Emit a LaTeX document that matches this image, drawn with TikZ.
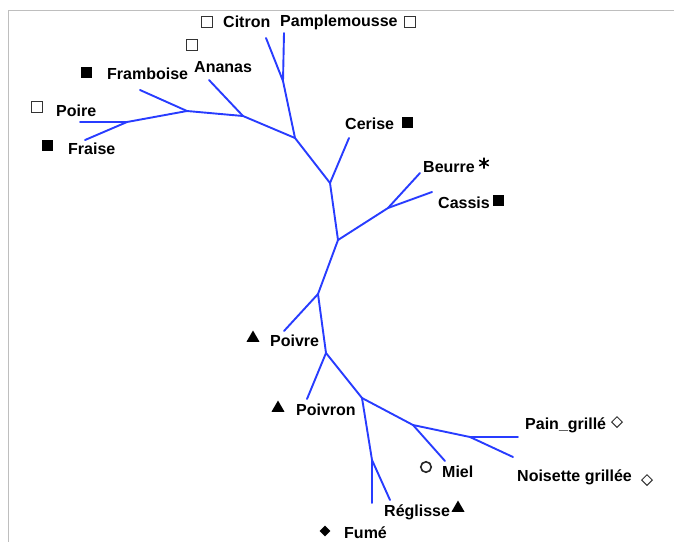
\documentclass[tikz,border=0pt]{standalone}
\usepackage{fontspec}
\setmainfont{Liberation Sans}
\usetikzlibrary{shapes.geometric}
\definecolor{treeblue}{RGB}{40,60,255}
\definecolor{framegray}{RGB}{190,190,190}
\tikzset{
  branch/.style={draw=treeblue, line width=1.9pt, line cap=round, line join=round},
  lbl/.style={inner sep=0pt, font=\fontsize{16}{18}\selectfont\bfseries},
  osq/.style={draw=black!80, line width=1.1pt, minimum size=10.5pt, inner sep=0pt},
  fsq/.style={fill=black, minimum size=11pt, inner sep=0pt},
  ftri/.style={regular polygon, regular polygon sides=3, fill=black, minimum size=15pt, inner sep=0pt},
  odia/.style={diamond, draw=black!80, line width=1pt, minimum width=11pt, minimum height=11pt, inner sep=0pt},
  fdia/.style={diamond, fill=black, minimum width=11pt, minimum height=11pt, inner sep=0pt},
  ocirc/.style={circle, draw=black!85, line width=1.6pt, minimum size=10.5pt, inner sep=0pt},
  astmark/.style={minimum size=11pt, inner sep=0pt,
    path picture={
      \draw[line width=1.6pt, black]
        ([shift={(90:5.5pt)}]path picture bounding box.center) -- ([shift={(270:5.5pt)}]path picture bounding box.center)
        ([shift={(30:5.5pt)}]path picture bounding box.center) -- ([shift={(210:5.5pt)}]path picture bounding box.center)
        ([shift={(150:5.5pt)}]path picture bounding box.center) -- ([shift={(330:5.5pt)}]path picture bounding box.center);
    }},
}
\begin{document}
\begin{tikzpicture}[x=1pt,y=-1pt]
\useasboundingbox (0,0) rectangle (674,542);
% frame
\coordinate (ftl) at (8.5,10.5);
\coordinate (ftr) at (674,10.5);
\coordinate (fbl) at (8.5,542);
\draw[framegray, line width=1.2pt] (ftr) -- (ftl) -- (fbl);

% junctions
\coordinate (jPF) at (127,122);
\coordinate (jFr) at (187,111);
\coordinate (jAn) at (243,116);
\coordinate (jCP) at (283,81);
\coordinate (jT1) at (295,138);
\coordinate (jCe) at (330,183);
\coordinate (jBC0) at (338,240);
\coordinate (jBC) at (388,208);
\coordinate (jPo) at (318,294);
\coordinate (jPn) at (326,353);
\coordinate (jM0) at (362,398);
\coordinate (jFR) at (372,460);
\coordinate (jMi) at (413,425);
\coordinate (jPN) at (470,437);

% leaf ends
\coordinate (ePoire) at (80,122);
\coordinate (eFraise) at (85,140);
\coordinate (eFramb) at (140,90);
\coordinate (eAnanas) at (209,80);
\coordinate (eCitron) at (266,38);
\coordinate (ePamp) at (284,33);
\coordinate (eCerise) at (349,138);
\coordinate (eBeurre) at (420,173);
\coordinate (eCassis) at (432,192);
\coordinate (ePoivre) at (284,331);
\coordinate (ePoivron) at (307,399);
\coordinate (eFume) at (372,503);
\coordinate (eRegl) at (390,500);
\coordinate (eMiel) at (445,461);
\coordinate (ePain) at (518,437);
\coordinate (eNois) at (513,457);

% branches
\draw[branch] (ePoire) -- (jPF);
\draw[branch] (eFraise) -- (jPF);
\draw[branch] (jPF) -- (jFr);
\draw[branch] (eFramb) -- (jFr);
\draw[branch] (jFr) -- (jAn);
\draw[branch] (eAnanas) -- (jAn);
\draw[branch] (jAn) -- (jT1);
\draw[branch] (eCitron) -- (jCP);
\draw[branch] (ePamp) -- (jCP);
\draw[branch] (jCP) -- (jT1);
\draw[branch] (jT1) -- (jCe);
\draw[branch] (eCerise) -- (jCe);
\draw[branch] (jCe) -- (jBC0);
\draw[branch] (jBC0) -- (jBC);
\draw[branch] (eBeurre) -- (jBC);
\draw[branch] (eCassis) -- (jBC);
\draw[branch] (jBC0) -- (jPo);
\draw[branch] (ePoivre) -- (jPo);
\draw[branch] (jPo) -- (jPn);
\draw[branch] (ePoivron) -- (jPn);
\draw[branch] (jPn) -- (jM0);
\draw[branch] (jM0) -- (jFR);
\draw[branch] (eFume) -- (jFR);
\draw[branch] (eRegl) -- (jFR);
\draw[branch] (jM0) -- (jMi);
\draw[branch] (eMiel) -- (jMi);
\draw[branch] (jMi) -- (jPN);
\draw[branch] (ePain) -- (jPN);
\draw[branch] (eNois) -- (jPN);

% labels
\node[lbl, anchor=west] (tCitron) at (223,22) {Citron};
\node[lbl, anchor=west] (tPamp) at (280,22) {Pamplemousse};
\node[lbl, anchor=west] (tAnanas) at (194,67) {Ananas};
\node[lbl, anchor=west] (tFramb) at (107,74) {Framboise};
\node[lbl, anchor=west] (tPoire) at (56,111) {Poire};
\node[lbl, anchor=west] (tFraise) at (68,149) {Fraise};
\node[lbl, anchor=west] (tCerise) at (345,124) {Cerise};
\node[lbl, anchor=west] (tBeurre) at (423,167) {Beurre};
\node[lbl, anchor=west] (tCassis) at (438,203) {Cassis};
\node[lbl, anchor=west] (tPoivre) at (270,341) {Poivre};
\node[lbl, anchor=west] (tPoivron) at (296,410) {Poivron};
\node[lbl, anchor=west] (tPain) at (525,425) {Pain\_grillé};
\node[lbl, anchor=west] (tNois) at (517,477) {Noisette grillée};
\node[lbl, anchor=west] (tMiel) at (442,472) {Miel};
\node[lbl, anchor=west] (tRegl) at (384,512) {Réglisse};
\node[lbl, anchor=west] (tFume) at (344,533) {Fumé};

% markers
\node[osq] (mCitron) at (207,22) {};
\node[osq] (mPamp) at (410,22) {};
\node[osq] (mAnanas) at (192,45) {};
\node[fsq] (mFramb) at (86,72) {};
\node[osq] (mPoire) at (37,107) {};
\node[fsq] (mFraise) at (47,145) {};
\node[fsq] (mCerise) at (407,122) {};
\node[astmark] (mBeurre) at (484,163) {};
\node[fsq] (mCassis) at (498,200) {};
\node[ftri] (mPoivre) at (253,338) {};
\node[ftri] (mPoivron) at (278,408) {};
\node[odia] (mPain) at (617,422) {};
\node[odia] (mNois) at (647,480) {};
\node[ocirc] (mMiel) at (426,467) {};
\node[ftri] (mRegl) at (458,508) {};
\node[fdia] (mFume) at (325,531) {};
\end{tikzpicture}
\end{document}
